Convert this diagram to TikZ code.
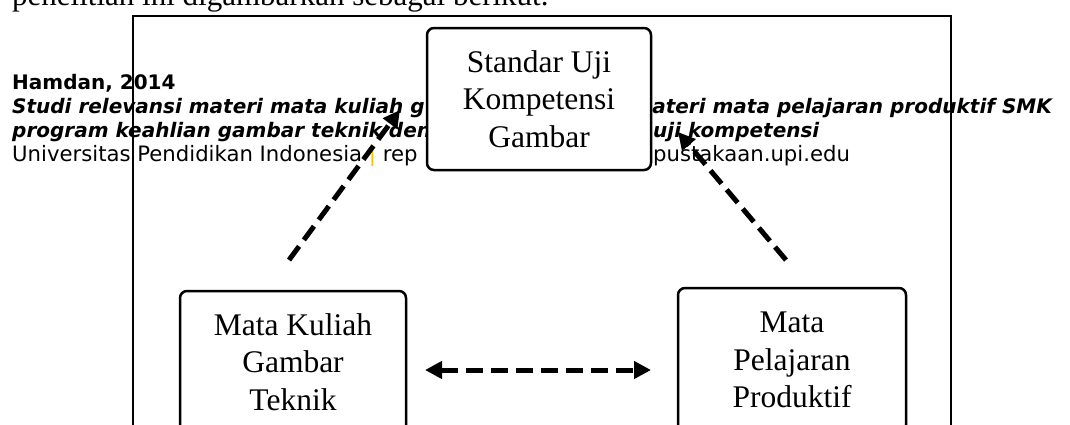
\documentclass[tikz,border=0pt]{standalone}
\usepackage{fontspec}
\setmainfont{Liberation Serif}
\newfontfamily\footfont{DejaVu Sans}
\usetikzlibrary{arrows.meta}
\definecolor{barorange}{HTML}{FFC000}
\tikzset{
  box/.style={draw, line width=2.5pt, rounded corners=7pt, fill=white, align=center, inner sep=0pt,
    font=\fontsize{31.5}{37.5}\selectfont},
  dasharrow/.style={line width=5pt, dash pattern=on 17pt off 8pt, -{Triangle[length=17pt,width=17pt]}},
  dasharrowboth/.style={line width=5pt, dash pattern=on 17pt off 8pt,
    {Triangle[length=17pt,width=17pt]}-{Triangle[length=17pt,width=17pt]}},
  footr/.style={anchor=base west, inner sep=0pt, font=\footfont\fontsize{21.2}{24}\selectfont},
  footb/.style={anchor=base west, inner sep=0pt, font=\footfont\bfseries\fontsize{20}{24}\selectfont},
  footbi/.style={anchor=base west, inner sep=0pt, font=\footfont\bfseries\itshape\fontsize{20}{24}\selectfont},
  intro/.style={anchor=base west, inner sep=0pt, font=\fontsize{31}{36}\selectfont},
  frameline/.style={line width=2.5pt},
}
\begin{document}
\begin{tikzpicture}[x=1pt,y=-1pt]
\useasboundingbox (0,0) rectangle (1070,424);
\clip (0,0) rectangle (1070,424);
% running text cut at top
\node[intro] (introtext) at (12,5) {penelitian ini digambarkan sebagai berikut.};
% footer text
\node[footb] (f1) at (12,89) {Hamdan, 2014};
\node[footbi] (f2a) at (12,113) {Studi relevansi materi mata kuliah g};
\node[footbi, anchor=base east] (f2b) at (1052,113) {materi mata pelajaran produktif SMK};
\node[footbi] (f3a) at (12,137) {program keahlian gambar teknik den};
\node[footbi] (f3b) at (653,137) {uji kompetensi};
\node[footr] (f4a) at (12,161) {Universitas Pendidikan Indonesia {\color{barorange}|} rep};
\node[footr] (f4b) at (653,161) {pustakaan.upi.edu};
% frame
\draw[frameline] (133,16) rectangle (951,460);
% boxes
\node[box, minimum width=224pt, minimum height=142pt] (std) at (539,99) {Standar Uji\\Kompetensi\\Gambar};
\node[box, minimum width=226pt, minimum height=142pt] (mk) at (293,362) {Mata Kuliah\\Gambar\\Teknik};
\node[box, minimum width=228pt, minimum height=144pt] (mp) at (792,360) {Mata\\Pelajaran\\Produktif};
% connectors
\coordinate (l1) at (289,260);
\coordinate (l2) at (400,110);
\coordinate (r1) at (786,260);
\coordinate (r2) at (678,132);
\coordinate (h1) at (425,370);
\coordinate (h2) at (651,370);
\draw[dasharrow] (l1) -- (l2);
\draw[dasharrow] (r1) -- (r2);
\draw[dasharrowboth] (h1) -- (h2);
\end{tikzpicture}
\end{document}
